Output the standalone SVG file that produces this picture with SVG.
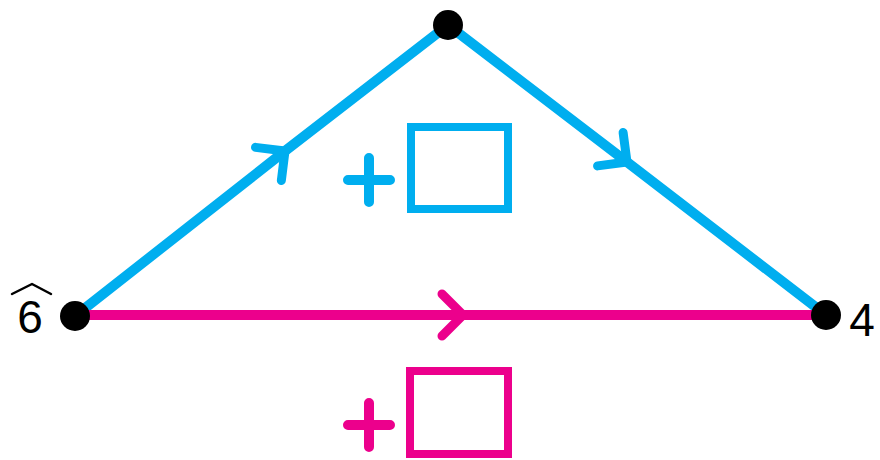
<svg xmlns="http://www.w3.org/2000/svg" width="880" height="460" viewBox="0 0 880 460">
<style>
.blue{stroke:#00AEEF}
.mag{stroke:#EC008C}
.edge{fill:none;stroke-width:10;stroke-linecap:round}
.box{fill:none;stroke-width:8}
.plus{fill:none;stroke-width:10;stroke-linecap:round}
.node{fill:#000}
.lbl{font-family:"Liberation Sans",Arial,sans-serif;font-size:46px;fill:#000}
</style>
<defs>
<marker id="chevB" markerUnits="userSpaceOnUse" orient="auto" markerWidth="60" markerHeight="60" viewBox="-30 -30 60 60" refX="0" refY="0" overflow="visible">
<path d="M-21,-21 L0,0 L-21,21" fill="none" stroke="#00AEEF" stroke-width="9" stroke-linecap="round" stroke-linejoin="round"/>
</marker>
<marker id="chevM" markerUnits="userSpaceOnUse" orient="auto" markerWidth="60" markerHeight="60" viewBox="-30 -30 60 60" refX="0" refY="0" overflow="visible">
<path d="M-21,-21 L0,0 L-21,21" fill="none" stroke="#EC008C" stroke-width="9" stroke-linecap="round" stroke-linejoin="round"/>
</marker>
</defs>
<g id="connectors">
<path class="edge blue" d="M75,316 L285,151 L448,25" marker-mid="url(#chevB)"/>
<path class="edge blue" d="M448,25 L627,162 L826,315" marker-mid="url(#chevB)"/>
<path class="edge mag" d="M75,315 L463,315 L826,315" marker-mid="url(#chevM)"/>
</g>
<g id="node-left">
<circle class="node" cx="75" cy="316" r="15"/>
<text class="lbl" x="30" y="333" text-anchor="middle">6</text>
<path d="M12,294 L32,284 L51,294" fill="none" stroke="#000" stroke-width="2.5" stroke-linecap="round" stroke-linejoin="round"/>
</g>
<g id="node-top">
<circle class="node" cx="448" cy="25" r="15"/>
</g>
<g id="node-right">
<circle class="node" cx="826" cy="315" r="15"/>
<text class="lbl" x="862" y="336" text-anchor="middle">4</text>
</g>
<g id="blue-term">
<path class="plus blue" d="M348,180 H390 M369,158 V202"/>
<rect class="box blue" x="411" y="127" width="97" height="82"/>
</g>
<g id="magenta-term">
<path class="plus mag" d="M348,425 H390 M369,403 V447"/>
<rect class="box mag" x="410" y="371" width="98" height="83"/>
</g>
</svg>
